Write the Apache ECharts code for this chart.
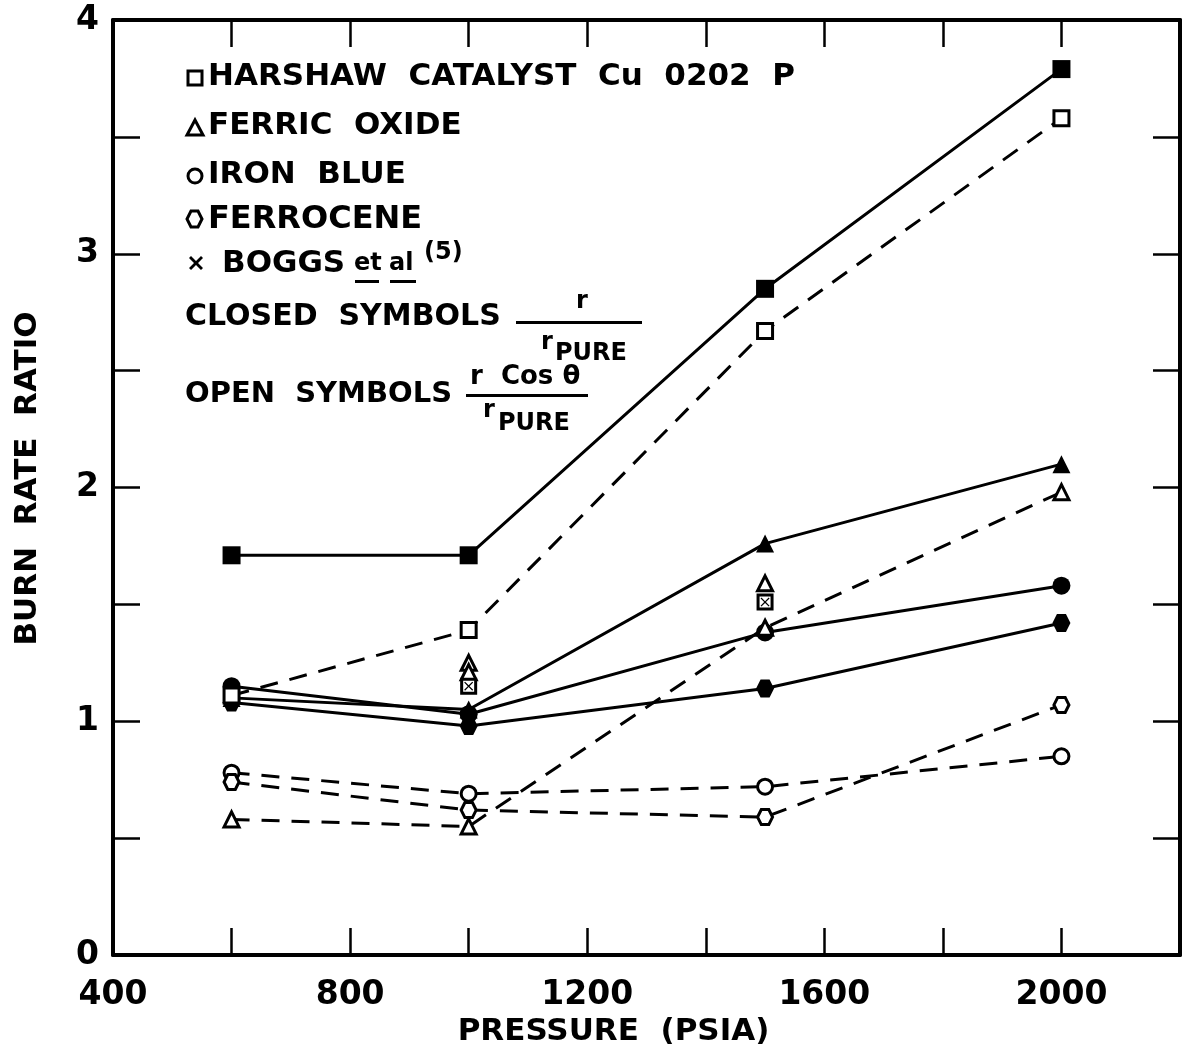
<!DOCTYPE html>
<html>
<head>
<meta charset="utf-8">
<script src="https://cdn.jsdelivr.net/npm/echarts@6/dist/echarts.min.js"></script>
<style>
  html, body { margin: 0; padding: 0; background: #fff; }
  #chart { width: 1183px; height: 1057px; }
</style>
</head>
<body>
<div id="chart"></div>
<script>
// pressures (psia) where the burn rates were measured
var pressures = [600, 1000, 1500, 2000];

// closed symbols: r / r_pure
var harshawClosed = [1.71, 1.71, 2.85, 3.79];
var ferricClosed = [1.10, 1.05, 1.76, 2.10];
var ironBlueClosed = [1.15, 1.03, 1.38, 1.58];
var ferroceneClosed = [1.08, 0.98, 1.14, 1.42];

// open symbols: r cos(theta) / r_pure
var harshawOpen = [1.11, 1.39, 2.67, 3.58];
var ferricOpen = [0.58, 0.55, 1.40, 1.98];
var ironBlueOpen = [0.78, 0.69, 0.72, 0.85];
var ferroceneOpen = [0.74, 0.62, 0.59, 1.07];

// loose points (Boggs et al and stacked open symbols)
var looseTriangleX = [1000, 1000, 1500];
var looseTriangleY = [1.25, 1.21, 1.59];
var looseSquareX = [1000, 1500];
var looseSquareY = [1.15, 1.51];

var xTicks = [400, 800, 1200, 1600, 2000];
var yTicks = [0, 1, 2, 3, 4];

var FONT = 'DejaVu Sans';
var HEX = 'path://M25,0 L75,0 L100,50 L75,100 L25,100 L0,50 Z';
var CROSS = 'path://M0,10 L10,0 L50,40 L90,0 L100,10 L60,50 L100,90 L90,100 L50,60 L10,100 L0,90 L40,50 Z';

function pairs(xs, ys) {
    return xs.map(function(x, i) { return [x, ys[i]]; });
}

function lineSeries(name, values, symbol, closed) {
    return {
        name: name,
        type: 'line',
        data: pairs(pressures, values),
        symbol: symbol,
        symbolSize: closed ? 18 : 15,
        showSymbol: true,
        z: closed ? 3 : 4,
        lineStyle: {
            color: '#000',
            width: 3,
            type: closed ? 'solid' : [18, 12]
        },
        itemStyle: {
            color: closed ? '#000' : '#fff',
            borderColor: '#000',
            borderWidth: closed ? 0 : 3,
            opacity: 1
        },
        animation: false
    };
}

function scatterSeries(name, data, symbol, size, open) {
    return {
        name: name,
        type: 'scatter',
        data: data,
        symbol: symbol,
        symbolSize: size,
        z: 5,
        itemStyle: {
            color: open ? '#fff' : '#000',
            borderColor: '#000',
            borderWidth: open ? 3 : 0,
            opacity: 1
        },
        animation: false
    };
}

var chart = echarts.init(document.getElementById('chart'));

var axisLine = { show: true, onZero: false, lineStyle: { color: '#000', width: 4 } };
var tickIn = { show: true, inside: true, length: 27, lineStyle: { color: '#000', width: 2.5 } };

// text placed by its anchor point (x, y = top of the text box)
function text(x, y, s, size, align) {
    return {
        type: 'text', x: x, y: y,
        style: {
            text: s, fontSize: size, fontFamily: FONT, fontWeight: 'bold', fill: '#000',
            align: align || 'left', verticalAlign: 'top'
        }
    };
}

var option = {
    backgroundColor: '#fff',
    animation: false,
    grid: { left: 113, right: 3, top: 20, bottom: 102, containLabel: false, outerBoundsMode: 'none' },
    xAxis: [{
        type: 'value', min: 400, max: 2200, interval: 200, position: 'bottom',
        axisLine: axisLine, axisTick: tickIn, splitLine: { show: false },
        axisLabel: {
            margin: 24, color: '#000', fontFamily: FONT, fontWeight: 'bold', fontSize: 33,
            formatter: function(v) { return xTicks.indexOf(v) >= 0 ? String(v) : ''; }
        },
        name: 'PRESSURE  (PSIA)', nameLocation: 'middle', nameGap: 61,
        nameTextStyle: { color: '#000', fontFamily: FONT, fontWeight: 'bold', fontSize: 31, padding: [0, 66, 0, 0] }
    }, {
        type: 'value', min: 400, max: 2200, interval: 200, position: 'top',
        axisLine: axisLine, axisTick: tickIn, splitLine: { show: false },
        axisLabel: { show: false }
    }],
    yAxis: [{
        type: 'value', min: 0, max: 4, interval: 0.5, position: 'left',
        axisLine: axisLine, axisTick: tickIn, splitLine: { show: false },
        axisLabel: {
            margin: 14, color: '#000', fontFamily: FONT, fontWeight: 'bold', fontSize: 33,
            formatter: function(v) { return yTicks.indexOf(v) >= 0 ? String(v) : ''; }
        },
        name: 'BURN  RATE  RATIO', nameLocation: 'middle', nameGap: 70, nameRotate: 90,
        nameTextStyle: { color: '#000', fontFamily: FONT, fontWeight: 'bold', fontSize: 31, padding: [0, 0, 0, 18] }
    }, {
        type: 'value', min: 0, max: 4, interval: 0.5, position: 'right',
        axisLine: axisLine, axisTick: tickIn, splitLine: { show: false },
        axisLabel: { show: false }
    }],
    series: [
        lineSeries('HARSHAW closed', harshawClosed, 'rect', true),
        lineSeries('FERRIC closed', ferricClosed, 'triangle', true),
        lineSeries('IRON BLUE closed', ironBlueClosed, 'circle', true),
        lineSeries('FERROCENE closed', ferroceneClosed, HEX, true),
        lineSeries('HARSHAW open', harshawOpen, 'rect', false),
        lineSeries('FERRIC open', ferricOpen, 'triangle', false),
        lineSeries('IRON BLUE open', ironBlueOpen, 'circle', false),
        lineSeries('FERROCENE open', ferroceneOpen, HEX, false),
        scatterSeries('triangles', pairs(looseTriangleX, looseTriangleY), 'triangle', 15, true),
        scatterSeries('squares', pairs(looseSquareX, looseSquareY), 'rect', 14, true),
        scatterSeries('BOGGS et al', pairs(looseSquareX, looseSquareY), CROSS, 9, false)
    ],
    graphic: [
        // legend symbols
        { type: 'rect', shape: { x: 188, y: 71, width: 14, height: 14 },
          style: { fill: '#fff', stroke: '#000', lineWidth: 3 } },
        { type: 'polygon', shape: { points: [[195, 120], [187, 135], [203, 135]] },
          style: { fill: '#fff', stroke: '#000', lineWidth: 3 } },
        { type: 'circle', shape: { cx: 195, cy: 176, r: 7 },
          style: { fill: '#fff', stroke: '#000', lineWidth: 3 } },
        { type: 'polygon', shape: { points: [[191, 211], [198, 211], [202, 219], [198, 227], [191, 227], [187, 219]] },
          style: { fill: '#fff', stroke: '#000', lineWidth: 3 } },
        { type: 'polygon', shape: { points: [[189, 258], [191, 256], [196, 261], [201, 256], [203, 258], [198, 263], [203, 268], [201, 270], [196, 265], [191, 270], [189, 268], [194, 263]] },
          style: { fill: '#000' } },
        // legend labels
        text(208, 61, 'HARSHAW  CATALYST  Cu  0202  P', 31),
        text(208, 110, 'FERRIC  OXIDE', 31),
        text(208, 159, 'IRON  BLUE', 31),
        text(208, 204, 'FERROCENE', 32),
        text(222, 248, 'BOGGS', 31),
        text(354, 252, 'et', 24),
        text(389, 252, 'al', 24),
        { type: 'rect', shape: { x: 355, y: 280, width: 24, height: 3 }, style: { fill: '#000' } },
        { type: 'rect', shape: { x: 390, y: 280, width: 26, height: 3 }, style: { fill: '#000' } },
        text(424, 241, '(5)', 24),
        // closed symbols fraction
        text(185, 302, 'CLOSED  SYMBOLS', 30),
        text(582, 290, 'r', 24, 'center'),
        { type: 'rect', shape: { x: 516, y: 321, width: 126, height: 3 }, style: { fill: '#000' } },
        text(547, 331, 'r', 24, 'center'),
        text(555, 342, 'PURE', 24),
        // open symbols fraction
        text(185, 380, 'OPEN  SYMBOLS', 29),
        text(470, 364, 'r  Cos θ', 26),
        { type: 'rect', shape: { x: 466, y: 394, width: 122, height: 3 }, style: { fill: '#000' } },
        text(489, 399, 'r', 24, 'center'),
        text(498, 412, 'PURE', 24)
    ]
};

chart.setOption(option);
</script>
</body>
</html>
